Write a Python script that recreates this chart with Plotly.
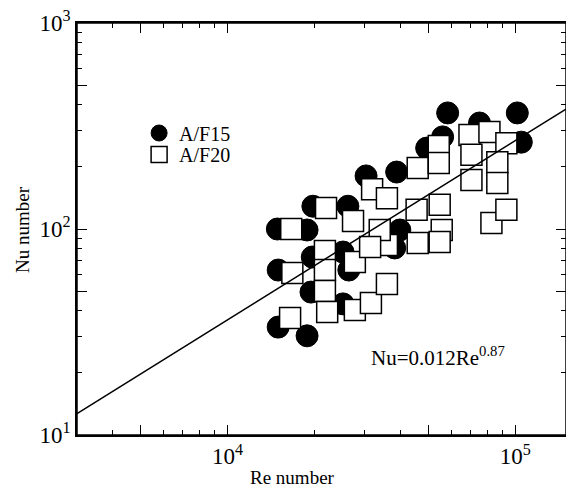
import plotly.graph_objects as go

# A/F15 (filled circles)
re_af15 = [14900, 15000, 15000, 18900, 18900, 19800, 19700, 19500, 26200, 26400,
           25200, 30300, 38700, 39700, 38100, 49200, 55900, 58200, 75100, 101600,
           104900, 25200]
nu_af15 = [100, 63.2, 33.4, 30.3, 98.9, 129, 73.1, 49.4, 129, 63.2,
           43.3, 181, 189, 98.9, 80.9, 247, 280, 366, 327, 366,
           264, 77.3]

# A/F20 (open squares)
re_af20 = [16650, 16800, 16500, 22000, 21800, 21800, 21800, 22200, 27300, 27700,
           27700, 31500, 35800, 31800, 35800, 35800, 45800, 45400, 45800, 33800,
           54200, 54200, 69300, 70400, 70400, 81300, 93100, 86600, 86600, 54600,
           55500, 54600, 82600, 93100, 31300]
nu_af20 = [100, 61.2, 37.0, 126.5, 78.2, 63.2, 50.0, 39.5, 109.3, 69.2,
           40.4, 43.7, 54.1, 156, 141, 83.6, 198, 124, 85.5, 98.9,
           253, 209, 286, 229, 173, 296, 261, 211, 167, 131,
           98.9, 86.5, 107, 124, 81.8]

# correlation Nu = 0.012 Re^0.87
fit_coef = 0.012
fit_exp = 0.87
fit_re = [3000, 150000]
fit_nu = [fit_coef * r ** fit_exp for r in fit_re]

# axis ticks
x_decades = [10000, 100000]
x_decade_text = ["10<sup>4</sup>", "10<sup>5</sup>"]
x_fives = [5000, 50000]
x_minor = [4000, 6000, 7000, 8000, 9000, 20000, 30000, 40000, 60000, 70000, 80000, 90000]
y_decades = [10, 100, 1000]
y_decade_text = ["10<sup>1</sup>", "10<sup>2</sup>", "10<sup>3</sup>"]
y_fives = [50, 500]
y_minor = [20, 30, 40, 60, 70, 80, 90, 200, 300, 400, 600, 700, 800, 900]

FONT = "Liberation Serif"
X_RANGE = [3.4771, 5.1761]
Y_RANGE = [1, 3]

fig = go.Figure()
fig.add_trace(go.Scatter(
    x=re_af15, y=nu_af15, mode="markers", name="A/F15", legend="legend",
    marker=dict(symbol="circle", size=22, color="black",
                line=dict(color="black", width=1)),
))
fig.add_trace(go.Scatter(
    x=re_af20, y=nu_af20, mode="markers", name="A/F20", legend="legend2",
    marker=dict(symbol="square", size=21, color="white",
                line=dict(color="black", width=1.5)),
))
fig.add_trace(go.Scatter(
    x=fit_re, y=fit_nu, mode="lines", showlegend=False,
    xaxis="x2", yaxis="y2",
    line=dict(color="black", width=1.5),
))

base = dict(
    type="log", showgrid=False, zeroline=False, automargin=False,
    showline=True, linecolor="black", linewidth=1.5, mirror="ticks",
    ticks="inside", ticklen=10, tickwidth=1.2, tickcolor="black",
    ticklabeloverflow="allow",
    tickfont=dict(family=FONT, size=23, color="black"),
)
minor_style = dict(tickmode="array", ticks="inside", ticklen=5, tickwidth=1.2,
                   tickcolor="black", showgrid=False)

fig.update_layout(
    xaxis=dict(**base, range=X_RANGE, tickmode="array",
               tickvals=x_decades, ticktext=x_decade_text,
               minor=dict(**minor_style, tickvals=x_minor)),
    yaxis=dict(**base, range=Y_RANGE, tickmode="array",
               tickvals=y_decades, ticktext=y_decade_text,
               minor=dict(**minor_style, tickvals=y_minor)),
    xaxis2=dict(**base, range=X_RANGE, overlaying="x", anchor="y2", side="bottom",
                tickmode="array", tickvals=x_fives, showticklabels=False),
    yaxis2=dict(**base, range=Y_RANGE, overlaying="y", anchor="x2", side="left",
                tickmode="array", tickvals=y_fives, showticklabels=False),
)

# plot frame
fig.add_shape(type="rect", xref="paper", yref="paper", x0=0, x1=1, y0=0, y1=1,
              line=dict(color="black", width=1.5), fillcolor="rgba(0,0,0,0)",
              layer="above")

fig.add_annotation(
    text="Re number", xref="paper", yref="paper", x=0.44, y=-0.104,
    xanchor="center", yanchor="middle", showarrow=False,
    font=dict(family=FONT, size=19, color="black"),
)
fig.add_annotation(
    text="Nu number", xref="paper", yref="paper", x=-0.1125, y=0.5,
    xanchor="center", yanchor="middle", showarrow=False, textangle=-90,
    font=dict(family=FONT, size=19, color="black"),
)
fig.add_annotation(
    text="Nu=0.012Re<sup>0.87</sup>", xref="paper", yref="paper",
    x=0.597, y=0.19, xanchor="left", yanchor="middle", showarrow=False,
    font=dict(family=FONT, size=21, color="black"),
)

legend_style = dict(xanchor="left", yanchor="middle", bgcolor="rgba(0,0,0,0)",
                    font=dict(family=FONT, size=20, color="black"),
                    itemsizing="trace")

# page body adds an 8px offset, so the figure is 8px smaller and margins shifted
fig.update_layout(
    width=566, height=482,
    margin=dict(l=69, r=8, t=15, b=55),
    paper_bgcolor="white", plot_bgcolor="white",
    font=dict(family=FONT, color="black"),
    showlegend=True,
    legend=dict(x=0.127, y=0.733, **legend_style),
    legend2=dict(x=0.127, y=0.681, **legend_style),
)

fig.write_html("out.html")
